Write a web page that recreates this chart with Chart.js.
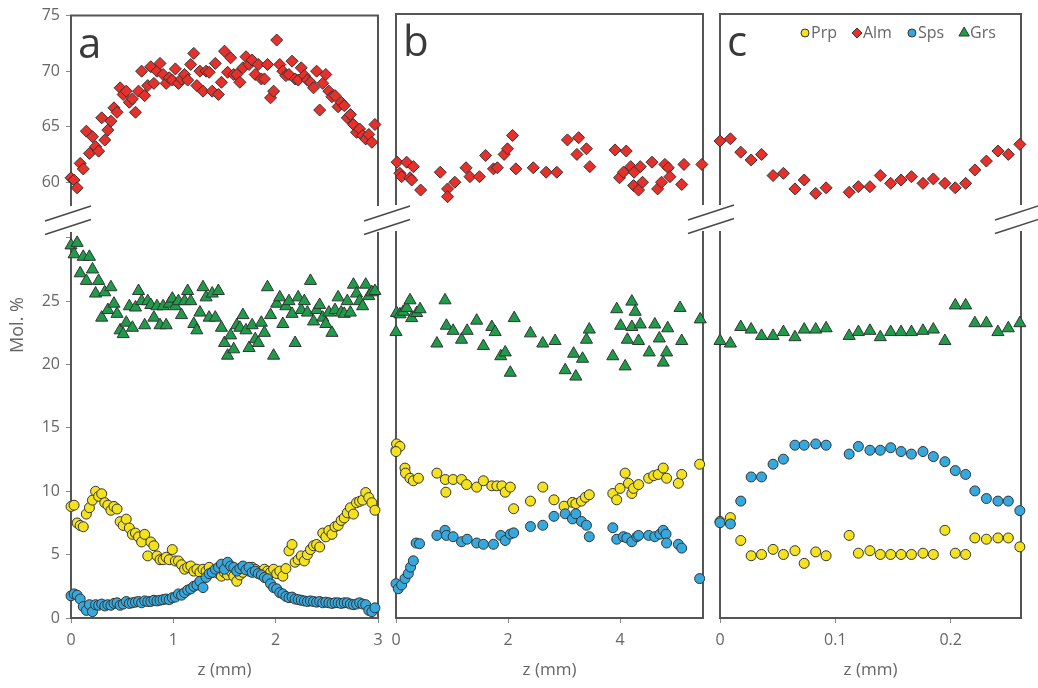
<!DOCTYPE html>
<html><head><meta charset="utf-8">
<script src="https://cdn.jsdelivr.net/npm/chart.js@4.4.1/dist/chart.umd.min.js"></script>
<style>
html,body{margin:0;padding:0;background:#fff;}
#wrap{position:relative;width:1038px;height:688px;overflow:hidden;}
#wrap canvas{position:absolute;left:0;top:0;}
</style></head><body>
<div id="wrap">
<canvas id="ca" width="1038" height="688"></canvas>
<canvas id="cb" width="1038" height="688"></canvas>
<canvas id="cc" width="1038" height="688"></canvas>
</div>
<script>
// ---------- data ----------
const seriesNames = ['Prp', 'Alm', 'Sps', 'Grs'];
const panelLetters = ['a', 'b', 'c'];
const xTitle = 'z (mm)';
const yTitle = 'Mol. %';
const yTicksLow = [0, 5, 10, 15, 20, 25, 30];
const yTicksHigh = [60, 65, 70, 75];
const xTicksA = [0, 1, 2, 3];
const xTicksB = [0, 2, 4];
const xTicksC = [0, 0.1, 0.2];
const xMaxA = 3, xMaxB = 5.48, xMaxC = 0.261;

// panel a (shared positions)
const zA = [0.00,0.03,0.06,0.09,0.12,0.15,0.18,0.21,0.24,0.27,
0.30,0.33,0.36,0.39,0.42,0.45,0.48,0.51,0.54,0.57,
0.60,0.63,0.66,0.69,0.72,0.75,0.78,0.81,0.84,0.87,
0.90,0.93,0.96,0.99,1.02,1.05,1.08,1.11,1.14,1.17,
1.20,1.23,1.26,1.29,1.32,1.35,1.38,1.41,1.44,1.47,
1.50,1.53,1.56,1.59,1.62,1.65,1.68,1.71,1.74,1.77,
1.80,1.83,1.86,1.89,1.92,1.95,1.98,2.01,2.04,2.07,
2.10,2.13,2.16,2.19,2.22,2.25,2.28,2.31,2.34,2.37,
2.40,2.43,2.46,2.49,2.52,2.55,2.58,2.61,2.64,2.67,
2.70,2.73,2.76,2.79,2.82,2.85,2.88,2.91,2.94,2.97];
const prpA = [8.8,8.9,7.5,7.3,7.2,8.2,8.7,9.3,10.0,9.6,
9.8,9.1,8.9,8.5,8.8,8.6,7.6,7.3,7.8,7.1,
6.6,6.7,6.4,6.0,6.6,4.9,6.0,5.7,4.9,4.6,
4.6,4.8,4.6,5.4,4.5,4.5,4.2,3.85,4.0,4.1,
3.7,3.85,3.6,3.85,3.7,4.0,3.6,3.8,3.5,3.3,
3.6,3.4,3.7,3.3,2.9,3.4,3.6,3.85,3.7,4.0,
3.85,3.7,3.5,3.85,3.7,3.6,3.85,3.5,3.7,3.3,
3.9,5.3,5.8,4.4,4.6,4.9,4.5,5.0,5.4,5.7,
5.8,5.6,6.7,6.4,6.9,6.6,7.2,7.3,7.7,7.9,
8.3,8.7,8.2,9.1,9.2,9.3,9.9,9.5,9.1,8.5];
const almA = [60.4,60.2,59.5,61.7,61.2,64.6,62.6,64.1,63.2,62.8,
65.8,63.8,64.7,65.5,66.7,66.3,68.5,67.9,68.2,67.2,
67.5,66.3,68.2,70.0,67.8,68.7,70.4,68.9,70.0,70.7,
69.7,68.9,69.4,69.2,70.2,68.9,69.3,69.7,69.2,70.6,
71.6,68.7,70.0,68.2,70.0,69.9,68.2,70.7,67.9,69.0,
71.8,69.9,71.2,69.7,69.7,69.0,70.3,71.3,70.6,71.0,
69.7,70.6,69.3,69.3,70.6,67.6,68.2,72.8,70.6,70.0,
69.6,69.7,70.9,69.3,69.2,70.3,69.6,69.2,69.0,68.5,
70.0,66.5,68.9,69.7,68.2,67.7,67.8,66.8,67.2,66.9,
65.8,66.1,65.2,64.5,64.8,64.2,63.9,64.3,63.6,65.2];
const spsA = [1.75,1.9,1.8,1.5,0.9,0.6,1.05,0.5,1.05,1.0,
1.1,0.95,1.05,1.0,1.15,1.2,1.0,1.1,1.3,1.15,
1.2,1.25,1.3,1.2,1.35,1.3,1.3,1.4,1.35,1.4,
1.45,1.5,1.45,1.6,1.65,1.9,1.8,2.0,2.2,2.3,
2.5,2.6,2.9,2.4,3.2,3.5,3.6,3.85,4.0,4.25,
3.85,4.4,4.1,4.0,3.7,3.9,4.1,3.8,4.0,3.6,
3.7,3.5,3.4,3.2,3.1,2.7,2.4,2.3,2.0,1.9,
1.7,1.6,1.65,1.5,1.45,1.4,1.35,1.3,1.35,1.3,
1.25,1.3,1.2,1.25,1.2,1.15,1.2,1.2,1.15,1.2,
1.2,1.1,1.05,1.1,1.2,1.1,1.05,0.6,0.5,0.8];
const grsA = [29.4,28.7,29.6,27.2,28.5,26.6,28.5,27.5,25.6,26.6,
23.7,25.7,24.3,26.1,24.8,24.0,22.7,22.4,23.3,24.6,
22.9,24.5,25.8,25.0,23.1,25.0,24.7,23.7,24.6,23.1,
24.6,23.1,24.8,25.2,24.6,25.0,23.9,25.0,25.8,25.0,
23.2,22.7,24.1,26.1,25.3,23.7,25.6,23.7,25.8,22.9,
21.7,20.7,22.3,21.2,23.1,22.9,23.9,22.7,21.3,23.1,
22.0,21.7,23.3,22.5,26.1,23.9,20.7,24.8,25.3,23.2,
24.6,25.0,24.0,21.7,25.3,24.3,25.0,24.1,26.6,23.4,
24.3,24.7,23.7,23.2,24.1,22.5,24.3,25.3,24.1,24.0,
25.0,24.1,26.3,25.6,25.0,24.6,26.3,25.4,25.7,25.8];

// panel b ([z, value] pairs)
const prpB = [[0,13.2],[0.01,13.7],[0.07,13.5],[0.0,13.1],[0.16,11.8],[0.17,11.4],[0.25,11.0],[0.31,10.8],[0.40,11.0],[0.73,11.4],[0.88,10.9],[0.89,9.9],[1.02,10.9],[1.17,10.9],[1.26,10.5],[1.44,10.3],[1.56,10.8],[1.71,10.4],[1.80,10.4],[1.89,10.4],[1.95,9.9],[2.04,10.3],[2.10,8.6],[2.40,9.2],[2.62,10.3],[2.82,9.3],[3.00,8.8],[3.15,9.1],[3.21,9.0],[3.31,9.2],[3.38,9.5],[3.45,9.7],[3.87,9.8],[3.94,9.3],[4.00,10.2],[4.09,11.4],[4.15,10.6],[4.21,9.8],[4.24,10.2],[4.33,10.5],[4.51,11.0],[4.60,11.2],[4.68,11.3],[4.77,11.8],[4.83,11.0],[5.04,10.6],[5.10,11.3],[5.42,12.1]];
const almB = [[0.02,61.7],[0.19,61.7],[0.31,61.3],[0.07,60.7],[0.10,60.4],[0.25,60.3],[0.28,60.1],[0.44,59.2],[0.79,60.8],[0.92,59.3],[0.92,58.6],[1.05,59.9],[1.25,61.2],[1.32,60.4],[1.49,60.4],[1.60,62.3],[1.74,61.1],[1.81,61.2],[1.93,62.4],[1.99,62.9],[2.08,64.1],[2.14,61.1],[2.45,61.2],[2.68,60.8],[2.87,60.8],[3.06,63.7],[3.23,62.4],[3.26,63.9],[3.40,62.9],[3.46,61.3],[3.91,62.8],[4.11,62.7],[3.99,60.3],[4.06,60.8],[4.19,61.3],[4.25,60.8],[4.24,59.6],[4.33,59.2],[4.40,59.9],[4.36,61.3],[4.57,61.7],[4.67,59.3],[4.74,59.9],[4.80,61.5],[4.86,61.2],[4.89,60.4],[5.10,59.7],[5.14,61.5],[5.46,61.5]];
const spsB = [[0,2.7],[0.04,2.3],[0.10,2.6],[0.16,3.1],[0.22,3.5],[0.26,4.0],[0.31,4.5],[0.36,5.9],[0.42,5.85],[0.73,6.5],[0.875,6.9],[0.90,6.5],[1.02,6.4],[1.17,6.0],[1.27,6.2],[1.44,5.9],[1.56,5.8],[1.74,5.8],[1.87,6.5],[1.95,6.1],[2.04,6.6],[2.10,6.7],[2.40,7.2],[2.62,7.3],[2.82,8.0],[3.02,8.2],[3.15,7.8],[3.21,8.2],[3.31,7.6],[3.40,7.3],[3.45,6.4],[3.87,7.1],[3.94,6.2],[4.06,6.4],[4.12,6.3],[4.21,6.0],[4.30,6.4],[4.33,6.5],[4.51,6.5],[4.62,6.4],[4.71,6.6],[4.77,6.9],[4.82,6.6],[4.83,5.9],[5.04,5.8],[5.10,5.5],[5.42,3.1]];
const grsB = [[0,22.5],[0.01,24.0],[0.07,23.9],[0.13,24.1],[0.19,24.4],[0.25,25.0],[0.28,23.6],[0.37,24.0],[0.43,24.3],[0.73,21.6],[0.875,25.0],[0.90,23.0],[1.02,22.6],[1.17,21.9],[1.27,22.6],[1.44,23.4],[1.56,21.4],[1.71,22.9],[1.77,22.5],[1.87,20.6],[1.95,20.9],[2.04,19.3],[2.11,23.6],[2.40,22.4],[2.62,21.6],[2.84,21.8],[3.02,19.5],[3.17,20.8],[3.21,19.0],[3.33,20.4],[3.40,21.9],[3.45,22.7],[3.87,20.6],[3.94,24.3],[4.01,23.0],[4.09,19.8],[4.13,21.9],[4.21,24.9],[4.21,22.9],[4.27,24.1],[4.33,21.8],[4.36,23.1],[4.52,20.9],[4.62,23.1],[4.70,22.0],[4.77,20.1],[4.83,20.9],[4.85,22.8],[5.07,24.4],[5.10,21.8],[5.43,23.5]];

// panel c (shared positions)
const zC = [0,0.009,0.018,0.027,0.036,0.046,0.055,0.065,0.073,0.083,0.092,
0.112,0.120,0.130,0.139,0.148,0.157,0.166,0.176,0.185,0.195,
0.204,0.213,0.221,0.231,0.241,0.250,0.260];
const prpC = [7.6,7.9,6.1,4.9,5.0,5.4,5.0,5.3,4.3,5.2,4.9,
6.5,5.1,5.3,5.0,5.0,5.0,5.0,5.1,5.0,6.9,
5.1,5.0,6.3,6.2,6.3,6.3,5.6];
const almC = [63.6,63.8,62.6,61.9,62.4,60.5,60.7,59.3,60.1,58.9,59.4,
59.0,59.5,59.5,60.5,59.8,60.1,60.4,59.8,60.2,59.8,
59.4,59.8,61.0,61.8,62.7,62.4,63.3];
const spsC = [7.5,7.4,9.2,11.1,11.1,12.1,12.5,13.6,13.6,13.7,13.6,
12.9,13.5,13.2,13.2,13.4,13.1,12.9,13.1,12.7,12.3,
11.6,11.3,10.0,9.4,9.2,9.2,8.45];
const grsC = [21.8,21.6,22.9,22.7,22.2,22.2,22.5,22.1,22.7,22.7,22.8,
22.2,22.5,22.6,22.1,22.5,22.5,22.5,22.6,22.7,21.8,
24.6,24.6,23.2,23.2,22.5,22.8,23.2];

// ---------- styling ----------
const TXT = '#666666';
const FRAME = '#555555';
const FONT = '"Open Sans", "DejaVu Sans", sans-serif';
const styles = {
  Prp: {pointStyle: 'circle', fill: '#f3e21d', r: 5, order: 2},
  Alm: {pointStyle: 'rectRot', fill: '#e6302b', r: 6, order: 4},
  Sps: {pointStyle: 'circle', fill: '#35a9de', r: 5, order: 1},
  Grs: {pointStyle: 'triangle', fill: '#1f9c4a', r: 7, order: 3}
};
// axis value ranges for the broken y axis (upper block / lower block)
const hiMin = 56.6, hiMax = 75, loMin = 0, loMax = 31.4;

function pairs(z, v) { return z.map((x, i) => ({x: x, y: v[i]})); }
function pts(arr) { return arr.map(p => ({x: p[0], y: p[1]})); }

function ds(name, data) {
  const s = styles[name];
  return {
    label: name, data: data,
    yAxisID: name === 'Alm' ? 'yHi' : 'yLo',
    pointStyle: s.pointStyle, pointRadius: s.r, pointHoverRadius: s.r,
    backgroundColor: s.fill, borderColor: '#333', borderWidth: 1,
    order: s.order, clip: false
  };
}

const deco = {
  id: 'deco',
  beforeDatasetsDraw(chart, args, o) {
    const {ctx, chartArea: ca} = chart;
    const b = chart.scales.yLo.top;
    const gT = b - 14, gB = b + 12;
    ctx.save();
    ctx.strokeStyle = FRAME; ctx.lineWidth = 2; ctx.lineCap = 'butt'; ctx.lineJoin = 'miter';
    ctx.beginPath();
    ctx.moveTo(ca.left, gT); ctx.lineTo(ca.left, ca.top); ctx.lineTo(ca.right, ca.top); ctx.lineTo(ca.right, gT);
    ctx.moveTo(ca.left, gB); ctx.lineTo(ca.left, ca.bottom); ctx.lineTo(ca.right, ca.bottom); ctx.lineTo(ca.right, gB);
    ctx.stroke();
    ctx.fillStyle = '#3a3a3a';
    ctx.font = '42px ' + FONT;
    ctx.textBaseline = 'alphabetic'; ctx.textAlign = 'left';
    ctx.fillText(o.letter, ca.left + 7, ca.top + 42);
    if (o.yTitle) {
      ctx.fillStyle = TXT; ctx.font = '18px ' + FONT;
      ctx.translate(18, 325); ctx.rotate(-Math.PI / 2);
      ctx.textAlign = 'center'; ctx.textBaseline = 'middle';
      ctx.fillText(o.yTitle, 0, 0);
    }
    ctx.restore();
  },
  afterDraw(chart, args, o) {
    const {ctx, chartArea: ca} = chart;
    const b = chart.scales.yLo.top;
    ctx.save();
    ctx.strokeStyle = '#4a4a4a'; ctx.lineWidth = 1.6;
    (o.breaks || []).forEach(br => {
      const cx = (br.side === 'left' ? ca.left : ca.right) + br.dx;
      [b - 6.5, b + 7].forEach(cy => {
        ctx.beginPath();
        ctx.moveTo(cx - 23, cy + 7.5);
        ctx.lineTo(cx + 23, cy - 7.5);
        ctx.stroke();
      });
    });
    if (o.legend) {
      let x = ca.left + 81;
      const y = ca.top + 19;
      ctx.font = '16px ' + FONT; ctx.textBaseline = 'middle'; ctx.textAlign = 'left';
      chart.data.datasets.slice().sort((a, c) => seriesNames.indexOf(a.label) - seriesNames.indexOf(c.label)).forEach(d => {
        const r = d.pointStyle === 'circle' ? 4 : (d.pointStyle === 'rectRot' ? 5 : 6);
        ctx.fillStyle = d.backgroundColor; ctx.strokeStyle = '#333'; ctx.lineWidth = 1;
        Chart.helpers.drawPoint(ctx, {pointStyle: d.pointStyle, radius: r, rotation: 0, borderWidth: 1}, x + 4, y);
        ctx.fillStyle = TXT;
        ctx.fillText(d.label, x + 10, y);
        x += 10 + ctx.measureText(d.label).width + 16;
      });
    }
    ctx.restore();
  }
};

function makeChart(id, cfg) {
  const showY = !!cfg.showY;
  const yCommon = (ticksArr) => ({
    type: 'linear', position: 'left', stack: 'ybreak',
    afterBuildTicks: s => { s.ticks = ticksArr.map(v => ({value: v})); },
    afterFit: s => { s.width = showY ? 71 : 0; },
    ticks: {display: showY, color: TXT, font: {size: 16, family: FONT}, padding: 6,
            callback: v => (v === 30 ? '' : String(v))},
    grid: {display: showY, drawOnChartArea: false, drawTicks: true, tickLength: 5, color: '#8a8a8a', lineWidth: 1},
    border: {display: false}
  });
  const yLo = Object.assign(yCommon(yTicksLow), {min: loMin, max: loMax, stackWeight: 399});
  const yHi = Object.assign(yCommon(yTicksHigh), {min: hiMin, max: hiMax, stackWeight: 205});
  return new Chart(document.getElementById(id), {
    type: 'scatter',
    data: {datasets: cfg.datasets},
    options: {
      responsive: false, animation: false, events: [],
      layout: {padding: {left: cfg.padL, right: cfg.padR, top: 14, bottom: 0}},
      plugins: {legend: {display: false}, tooltip: {enabled: false}, deco: cfg.deco},
      scales: {
        x: {
          type: 'linear', min: 0, max: cfg.xMax,
          afterBuildTicks: s => { s.ticks = cfg.xTicks.map(v => ({value: v})); },
          afterFit: s => { s.height = 70; },
          ticks: {color: TXT, font: {size: 16, family: FONT}, padding: 8, maxRotation: 0,
                  callback: v => String(v)},
          grid: {display: true, drawOnChartArea: false, drawTicks: true, tickLength: 5, color: '#8a8a8a'},
          border: {display: false},
          title: {display: true, text: xTitle, color: TXT, font: {size: 17, family: FONT}, padding: {top: 0, bottom: 8}}
        },
        yLo: yLo,
        yHi: yHi
      }
    },
    plugins: [deco]
  });
}

makeChart('ca', {
  showY: true, padL: 0, padR: 1038 - 378, xMax: xMaxA, xTicks: xTicksA,
  datasets: [ds('Prp', pairs(zA, prpA)), ds('Alm', pairs(zA, almA)), ds('Sps', pairs(zA, spsA)), ds('Grs', pairs(zA, grsA))],
  deco: {letter: panelLetters[0], yTitle: yTitle, breaks: [{side: 'left', dx: -3}, {side: 'right', dx: 9}]}
});
makeChart('cb', {
  padL: 396, padR: 1038 - 703, xMax: xMaxB, xTicks: xTicksB,
  datasets: [ds('Prp', pts(prpB)), ds('Alm', pts(almB)), ds('Sps', pts(spsB)), ds('Grs', pts(grsB))],
  deco: {letter: panelLetters[1], breaks: [{side: 'right', dx: 8}]}
});
makeChart('cc', {
  padL: 720, padR: 1038 - 1021, xMax: xMaxC, xTicks: xTicksC,
  datasets: [ds('Prp', pairs(zC, prpC)), ds('Alm', pairs(zC, almC)), ds('Sps', pairs(zC, spsC)), ds('Grs', pairs(zC, grsC))],
  deco: {letter: panelLetters[2], legend: true, breaks: [{side: 'right', dx: -3}]}
});
</script>
</body></html>
